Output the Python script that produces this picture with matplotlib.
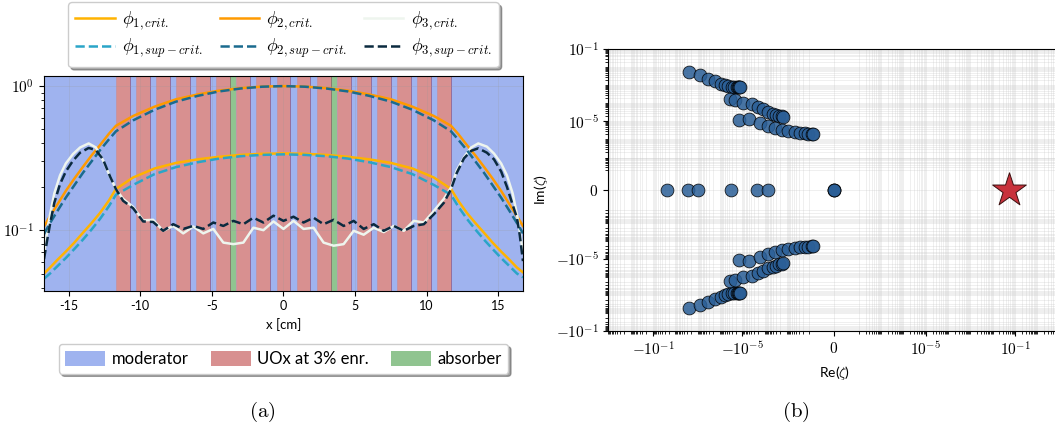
import matplotlib
matplotlib.use("Agg")
import matplotlib.pyplot as plt
import matplotlib.ticker as mticker
from matplotlib.patches import Patch
import numpy as np

plt.rcParams['font.family'] = ['Lato', 'DejaVu Sans']
plt.rcParams['mathtext.fontset'] = 'cm'
plt.rcParams['axes.unicode_minus'] = False

# --- (a) flux profiles -------------------------------------------------------
x_smooth = [-16.72, -16.3, -15.8, -15.2, -14.6, -14.0, -13.4, -12.8, -12.2, -11.7,
            -10.5, -9.0, -7.5, -6.0, -4.5, -3.0, -1.5, 0.0, 1.5, 3.0, 4.5, 6.0,
            7.5, 9.0, 10.5, 11.7, 12.2, 12.8, 13.4, 14.0, 14.6, 15.2, 15.8, 16.3, 16.72]
phi1_crit = [0.050, 0.055, 0.062, 0.071, 0.082, 0.096, 0.112, 0.132, 0.160, 0.193,
             0.232, 0.268, 0.293, 0.310, 0.323, 0.333, 0.339, 0.341, 0.339, 0.333,
             0.323, 0.310, 0.293, 0.268, 0.232, 0.193, 0.160, 0.132, 0.112, 0.096,
             0.082, 0.071, 0.062, 0.055, 0.051]
phi1_sup = [0.046, 0.050, 0.056, 0.064, 0.074, 0.086, 0.101, 0.120, 0.146, 0.176,
            0.206, 0.245, 0.274, 0.296, 0.314, 0.326, 0.333, 0.336, 0.333, 0.326,
            0.314, 0.296, 0.274, 0.245, 0.206, 0.176, 0.146, 0.120, 0.101, 0.086,
            0.074, 0.064, 0.056, 0.050, 0.047]
phi2_crit = [0.106, 0.125, 0.150, 0.187, 0.228, 0.275, 0.330, 0.390, 0.465, 0.530,
             0.620, 0.720, 0.810, 0.875, 0.930, 0.968, 0.992, 1.000, 0.992, 0.968,
             0.930, 0.875, 0.810, 0.720, 0.620, 0.530, 0.465, 0.390, 0.330, 0.275,
             0.228, 0.187, 0.150, 0.125, 0.107]
phi2_sup = [0.094, 0.112, 0.135, 0.168, 0.205, 0.250, 0.300, 0.360, 0.425, 0.485,
            0.578, 0.685, 0.780, 0.855, 0.918, 0.962, 0.990, 1.000, 0.990, 0.962,
            0.918, 0.855, 0.780, 0.685, 0.578, 0.485, 0.425, 0.360, 0.300, 0.250,
            0.205, 0.168, 0.135, 0.112, 0.095]

x_fine = [-16.72, -16.5, -16.3, -16.0, -15.6, -15.2, -14.7, -14.2, -13.6, -13.1, -12.6,
          -12.1, -11.7, -11.2, -10.5, -9.8, -9.1, -8.4, -7.7, -7.0, -6.3, -5.6, -4.9,
          -4.2, -3.5, -2.8, -2.1, -1.4, -0.7, 0.0, 0.7, 1.4, 2.1, 2.8, 3.5, 4.2, 4.9,
          5.6, 6.3, 7.0, 7.7, 8.4, 9.1, 9.8, 10.5, 11.2, 11.7, 12.1, 12.6, 13.1, 13.6,
          14.2, 14.7, 15.2, 15.6, 16.0, 16.3, 16.5, 16.72]
phi3_crit = [0.068, 0.098, 0.128, 0.180, 0.240, 0.290, 0.337, 0.375, 0.400, 0.375, 0.305,
             0.235, 0.193, 0.165, 0.145, 0.117, 0.118, 0.099, 0.107, 0.095, 0.106, 0.095,
             0.102, 0.082, 0.080, 0.082, 0.104, 0.100, 0.115, 0.102, 0.116, 0.102, 0.104,
             0.082, 0.078, 0.080, 0.099, 0.093, 0.104, 0.097, 0.107, 0.099, 0.116, 0.113,
             0.136, 0.165, 0.198, 0.260, 0.320, 0.375, 0.400, 0.380, 0.340, 0.290, 0.240,
             0.180, 0.129, 0.098, 0.070]
phi3_sup = [0.063, 0.085, 0.110, 0.155, 0.209, 0.255, 0.303, 0.345, 0.372, 0.360, 0.310,
            0.235, 0.193, 0.160, 0.142, 0.115, 0.114, 0.099, 0.110, 0.102, 0.107, 0.102,
            0.113, 0.107, 0.116, 0.110, 0.122, 0.113, 0.126, 0.116, 0.124, 0.113, 0.122,
            0.110, 0.118, 0.107, 0.116, 0.102, 0.110, 0.099, 0.107, 0.099, 0.107, 0.110,
            0.129, 0.155, 0.193, 0.250, 0.315, 0.355, 0.370, 0.345, 0.310, 0.255, 0.200,
            0.150, 0.122, 0.092, 0.061]

# core geometry [cm]
domain = [-16.72, 16.72]
pin_centers = [-11.2, -9.8, -8.4, -7.0, -5.6, -4.2, -2.8, -1.4, 0.0,
               1.4, 2.8, 4.2, 5.6, 7.0, 8.4, 9.8, 11.2]
pin_width = 0.97
absorber_centers = [-3.5, 3.5]

# --- (b) eigenvalues ---------------------------------------------------------
branch_re = [-2.5e-3, -8e-4, -3.4e-4, -1.7e-4, -9.3e-5, -6e-5, -4.3e-5, -3e-5, -2.3e-5,
             -1.8e-5, -1.6e-5, -1.45e-5, -1.35e-5, -1.3e-5,
             -3.5e-5, -2.1e-5, -9.1e-6, -3.8e-6, -1.9e-6, -1.15e-6, -6.9e-7, -4.4e-7,
             -3.1e-7, -2.3e-7, -1.7e-7, -1.45e-7,
             -1.41e-5, -5.0e-6, -1.62e-6, -6.9e-7, -3.5e-7, -1.74e-7, -8.7e-8, -4.4e-8,
             -2.6e-8, -1.55e-8, -1.1e-8, -9.0e-9, -8.4e-9]
branch_im = [5.4e-3, 3.6e-3, 2.4e-3, 1.7e-3, 1.26e-3, 1.02e-3, 8.9e-4, 8.1e-4, 7.9e-4,
             7.9e-4, 7.9e-4, 7.9e-4, 7.8e-4, 7.8e-4,
             1.66e-4, 1.51e-4, 1.0e-4, 9.1e-5, 6.0e-5, 4.7e-5, 3.4e-5, 2.75e-5,
             2.35e-5, 2.0e-5, 1.9e-5, 1.8e-5,
             1.17e-5, 1.29e-5, 8.3e-6, 5.5e-6, 4.1e-6, 3.3e-6, 2.8e-6, 2.45e-6,
             2.3e-6, 2.2e-6, 2.1e-6, 2.0e-6, 2.0e-6]
real_eigs = [-2.45e-2, -2.8e-3, -9.5e-4, -3.3e-5, -2.3e-6, -7.1e-7, 0.0, 0.0, 0.0]
fund_eig = 0.051

fig = plt.figure(figsize=(10.55, 4.33), dpi=100)
ax1 = fig.add_axes([0.0417, 0.3286, 0.4540, 0.4965])
ax2 = fig.add_axes([0.5766, 0.2356, 0.4279, 0.6505])

# background materials
c_mod, c_fuel, c_abs = 'royalblue', 'firebrick', 'forestgreen'
half = pin_width / 2
ax1.axvspan(domain[0], pin_centers[0] - half, color=c_mod, alpha=0.5, lw=0)
ax1.axvspan(pin_centers[-1] + half, domain[1], color=c_mod, alpha=0.5, lw=0)
for a, b in zip(pin_centers[:-1], pin_centers[1:]):
    mid = (a + b) / 2
    col = c_abs if min(abs(mid - c) for c in absorber_centers) < 0.2 else c_mod
    ax1.axvspan(a + half, b - half, color=col, alpha=0.5, lw=0)
for c in pin_centers:
    ax1.axvspan(c - half, c + half, facecolor=c_fuel, alpha=0.5,
                edgecolor='#7a3a6a', lw=0.5)

lw = 1.8
l1c, = ax1.plot(x_smooth, phi1_crit, color='#ffb300', lw=lw)
l2c, = ax1.plot(x_smooth, phi2_crit, color='#ff9a00', lw=lw)
l3c, = ax1.plot(x_fine, phi3_crit, color='#eef5ee', lw=lw)
l1s, = ax1.plot(x_smooth, phi1_sup, color='#2aa5c8', lw=lw, ls='--')
l2s, = ax1.plot(x_smooth, phi2_sup, color='#1a6b8e', lw=lw, ls='--')
l3s, = ax1.plot(x_fine, phi3_sup, color='#0b2a3f', lw=lw, ls='--')

ax1.set_yscale('log')
ax1.set_xlim(domain)
ax1.set_ylim(0.038, 1.18)
ax1.yaxis.set_major_locator(mticker.FixedLocator([0.1, 1.0]))
ax1.yaxis.set_major_formatter(mticker.FixedFormatter([r'$10^{-1}$', r'$10^{0}$']))
ax1.yaxis.set_minor_formatter(mticker.NullFormatter())
ax1.set_xticks([-15, -10, -5, 0, 5, 10, 15])
ax1.tick_params(labelsize=9)
ax1.tick_params(axis='y', labelsize=11)
ax1.grid(True, color='0.6', alpha=0.25, lw=0.6)
ax1.set_xlabel('x [cm]', fontsize=9.5)

leg_top = ax1.legend([l1c, l1s, l2c, l2s, l3c, l3s],
                     [r'$\phi_{1,crit.}$', r'$\phi_{1,sup-crit.}$',
                      r'$\phi_{2,crit.}$', r'$\phi_{2,sup-crit.}$',
                      r'$\phi_{3,crit.}$', r'$\phi_{3,sup-crit.}$'],
                     ncol=3, loc='lower center', bbox_to_anchor=(0.5, 1.04),
                     borderaxespad=0, fontsize=13, shadow=True, framealpha=1,
                     handlelength=2.2, handletextpad=0.4, columnspacing=0.9,
                     labelspacing=0.25, edgecolor='0.8')
ax1.add_artist(leg_top)
patches = [Patch(facecolor=c_mod, alpha=0.5), Patch(facecolor=c_fuel, alpha=0.5),
           Patch(facecolor=c_abs, alpha=0.5)]
ax1.legend(patches, ['moderator', 'UOx at 3% enr.', 'absorber'], ncol=3,
           loc='upper center', bbox_to_anchor=(0.5, -0.248), borderaxespad=0,
           fontsize=12, shadow=True, framealpha=1, handlelength=2.4,
           handleheight=1.0, handletextpad=0.4, columnspacing=1.3, edgecolor='0.8')

# (b) spectrum
re_all = branch_re + branch_re
im_all = branch_im + [-v for v in branch_im]
ax2.scatter(re_all, im_all, s=85, color='#2b5f97', edgecolor='k', lw=0.6,
            alpha=0.85, zorder=3)
ax2.scatter(real_eigs, [0.0] * len(real_eigs), s=85, color='#2b5f97',
            edgecolor='k', lw=0.6, alpha=0.85, zorder=3)
ax2.scatter([fund_eig], [0.0], s=650, marker='*', color='#c8323c', edgecolor='#3a1010',
            lw=0.7, zorder=4)

lin_x, lin_y = 1e-8, 2e-8
ax2.set_xscale('symlog', linthresh=lin_x, linscale=1)
ax2.set_yscale('symlog', linthresh=lin_y, linscale=1)
ax2.set_xlim(-10, 10)
ax2.set_ylim(-0.1, 0.1)
for axis, lin in ((ax2.xaxis, lin_x), (ax2.yaxis, lin_y)):
    minor = [s * m * 10.0 ** k for s in (-1, 1) for k in range(-9, 2)
             for m in range(1, 10) if m * 10.0 ** k >= lin * 0.999]
    axis.set_minor_locator(mticker.FixedLocator(minor))
    axis.set_minor_formatter(mticker.NullFormatter())
ticks_b = [-1e-1, -1e-5, 0, 1e-5, 1e-1]
labels_b = [r'$-10^{-1}$', r'$-10^{-5}$', r'$0$', r'$10^{-5}$', r'$10^{-1}$']
for axis in (ax2.xaxis, ax2.yaxis):
    axis.set_major_locator(mticker.FixedLocator(ticks_b))
    axis.set_major_formatter(mticker.FixedFormatter(labels_b))
ax2.tick_params(labelsize=11)
ax2.tick_params(which='minor', length=2)
ax2.set_axisbelow(True)
ax2.grid(True, which='both', color='0.75', lw=0.5, alpha=0.35)
ax2.set_xlabel(r'Re($\zeta$)', fontsize=10)
ax2.set_ylabel(r'Im($\zeta$)', fontsize=10)

fig.text(262 / 1055, 1 - 412 / 433, r'$\mathrm{(a)}$', fontsize=15, ha='center', va='center')
fig.text(796 / 1055, 1 - 412 / 433, r'$\mathrm{(b)}$', fontsize=15, ha='center', va='center')

fig.savefig('out.png', dpi=100)
